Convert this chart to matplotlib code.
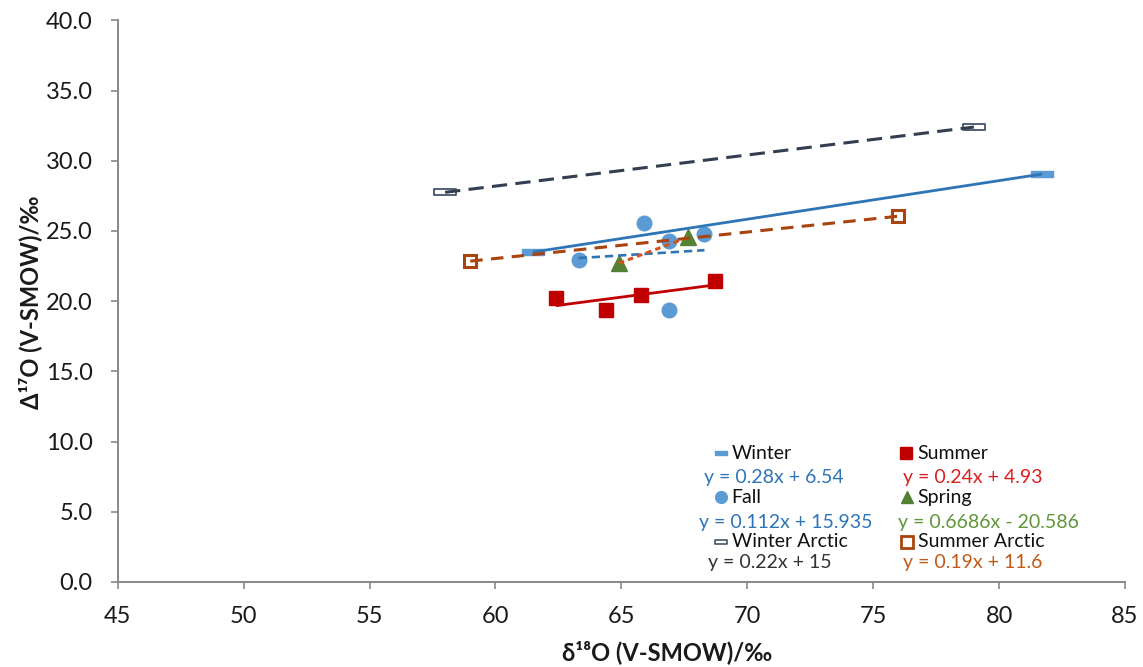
import numpy as np
import matplotlib
matplotlib.use("Agg")
import matplotlib.pyplot as plt
from matplotlib.path import Path

plt.rcParams['font.family'] = ['Lato', 'DejaVu Sans']
plt.rcParams['lines.scale_dashes'] = False

# ---------------- data ----------------
winter_x = [61.5, 81.7]
winter_y = [23.5, 29.05]
summer_x = [62.4, 64.4, 65.8, 68.7]
summer_y = [20.2, 19.4, 20.45, 21.4]
fall_x = [63.3, 65.9, 66.9, 68.3, 66.9]
fall_y = [22.9, 25.6, 24.3, 24.8, 19.4]
spring_x = [64.9, 67.65]
spring_y = [22.7, 24.55]
winter_arctic_x = [58.0, 79.0]
winter_arctic_y = [27.75, 32.4]
summer_arctic_x = [59.0, 76.0]
summer_arctic_y = [22.85, 26.05]

series_names = ["Winter", "Summer", "Fall", "Spring", "Winter Arctic", "Summer Arctic"]
equations = ["y = 0.28x + 6.54", "y = 0.24x + 4.93", "y = 0.112x + 15.935",
             "y = 0.6686x - 20.586", "y = 0.22x + 15", "y = 0.19x + 11.6"]

x_ticks = [45, 50, 55, 60, 65, 70, 75, 80, 85]
y_ticks = [0, 5, 10, 15, 20, 25, 30, 35, 40]

# ---------------- figure ----------------
W, H = 1143, 667
fig = plt.figure(figsize=(W / 100, H / 100), dpi=100)
ax_l, ax_r, ax_t, ax_b = 117.7, 1125.0, 20.3, 582.0
ax = fig.add_axes([ax_l / W, 1 - ax_b / H, (ax_r - ax_l) / W, (ax_b - ax_t) / H])

bar = Path([(-1, -0.25), (1, -0.25), (1, 0.25), (-1, 0.25), (-1, -0.25)],
           [Path.MOVETO, Path.LINETO, Path.LINETO, Path.LINETO, Path.CLOSEPOLY])

c_fall = "#5B9BD5"
c_blue_line = "#2E75B6"
c_red = "#C00000"
c_green = "#548235"
c_spring_line = "#D4531C"
c_sa = "#A9440F"
c_wa = "#44546A"
c_wa_line = "#333F50"

# markers
ax.plot(winter_x, winter_y, ls='none', marker=bar, ms=16, color=c_fall, mec=c_fall, zorder=2)
ax.plot(summer_x, summer_y, ls='none', marker='s', ms=10, color=c_red, mec=c_red, zorder=2)
ax.plot(fall_x, fall_y, ls='none', marker='o', ms=10.5, color=c_fall, mec=c_fall, zorder=2)
ax.plot(spring_x, spring_y, ls='none', marker='^', ms=11.5, color=c_green, mec=c_green, zorder=2)
ax.plot(winter_arctic_x, winter_arctic_y, ls='none', marker=bar, ms=16, mfc='white', mec=c_wa, mew=1.3, zorder=2)
ax.plot(summer_arctic_x, summer_arctic_y, ls='none', marker='s', ms=9, mfc='white', mec=c_sa, mew=2.2, zorder=2)


def trend(xs, ys, **kw):
    k, b = np.polyfit(xs, ys, 1)
    xx = np.array([min(xs), max(xs)])
    ax.plot(xx, k * xx + b, zorder=3, solid_capstyle='butt', dash_capstyle='butt', **kw)


trend(winter_x, winter_y, color=c_blue_line, lw=2.0)
trend(summer_x, summer_y, color=c_red, lw=2.0)
trend(fall_x, fall_y, color=c_blue_line, lw=1.9, dashes=(6, 3.5))
trend(spring_x, spring_y, color=c_spring_line, lw=2.2, dashes=(4, 3))
trend(winter_arctic_x, winter_arctic_y, color=c_wa_line, lw=2.2, dashes=(11, 6))
trend(summer_arctic_x, summer_arctic_y, color=c_sa, lw=2.2, dashes=(9, 6))

ax.set_xlim(45, 85)
ax.set_ylim(0, 40)
ax.set_xticks(x_ticks)
ax.set_xticklabels([str(v) for v in x_ticks])
ax.set_yticks(y_ticks)
ax.set_yticklabels([f"{v:.1f}" for v in y_ticks])
for s in ['top', 'right']:
    ax.spines[s].set_visible(False)
for s in ['left', 'bottom']:
    ax.spines[s].set_color('#898989')
    ax.spines[s].set_linewidth(1.4)
ax.tick_params(axis='both', direction='out', length=5, width=1.2, color='#898989',
               labelsize=17, labelcolor='#1a1a1a')
ax.tick_params(axis='x', pad=12)
ax.tick_params(axis='y', pad=13)

fig.text(667 / W, 1 - 652 / H, "δ¹⁸O (V-SMOW)/‰", ha='center', va='center',
         fontsize=17, fontweight='bold', color='#1a1a1a')
fig.text(30 / W, 1 - 302 / H, "Δ¹⁷O (V-SMOW)/‰", ha='center', va='center',
         rotation=90, fontsize=17, fontweight='bold', color='#1a1a1a')

# ---------------- legend (manual) ----------------
def px(xp, yp):
    return ((xp - ax_l) / (ax_r - ax_l), (ax_b - yp) / (ax_b - ax_t))


leg_markers = [
    dict(marker=bar, ms=9, color=c_fall, mec=c_fall),
    dict(marker='s', ms=8, color=c_red, mec=c_red),
    dict(marker='o', ms=8.5, color=c_fall, mec=c_fall),
    dict(marker='^', ms=8, color=c_green, mec=c_green),
    dict(marker=bar, ms=9, mfc='white', mec=c_wa, mew=1.2),
    dict(marker='s', ms=8, mfc='white', mec=c_sa, mew=2.0),
]
eq_colors = ["#2E75B6", "#DD1F1F", "#2E75B6", "#5E9638", "#333333", "#C05A14"]
rows_y = [453.3, 453.3, 497.3, 497.3, 541.7, 541.7]
eq_y = [477.7, 477.7, 522.3, 522.3, 562.7, 562.7]
mk_x = [721, 906, 721, 906.5, 721, 906.5]
txt_x = [731.7, 917.7, 731.7, 917.7, 731.7, 917.7]
eq_x = [704, 903.3, 699.3, 898.3, 708.3, 903.3]

for i, name in enumerate(series_names):
    mx, my = px(mk_x[i], rows_y[i])
    ax.plot([mx], [my], transform=ax.transAxes, clip_on=False, ls='none', **leg_markers[i])
    tx, ty = px(txt_x[i], rows_y[i])
    ax.text(tx, ty, name, transform=ax.transAxes, ha='left', va='center',
            fontsize=14, color='#111111')
    ex, ey = px(eq_x[i], eq_y[i])
    ax.text(ex, ey, equations[i], transform=ax.transAxes, ha='left', va='center',
            fontsize=14, color=eq_colors[i])

fig.savefig("out.png", dpi=100)
